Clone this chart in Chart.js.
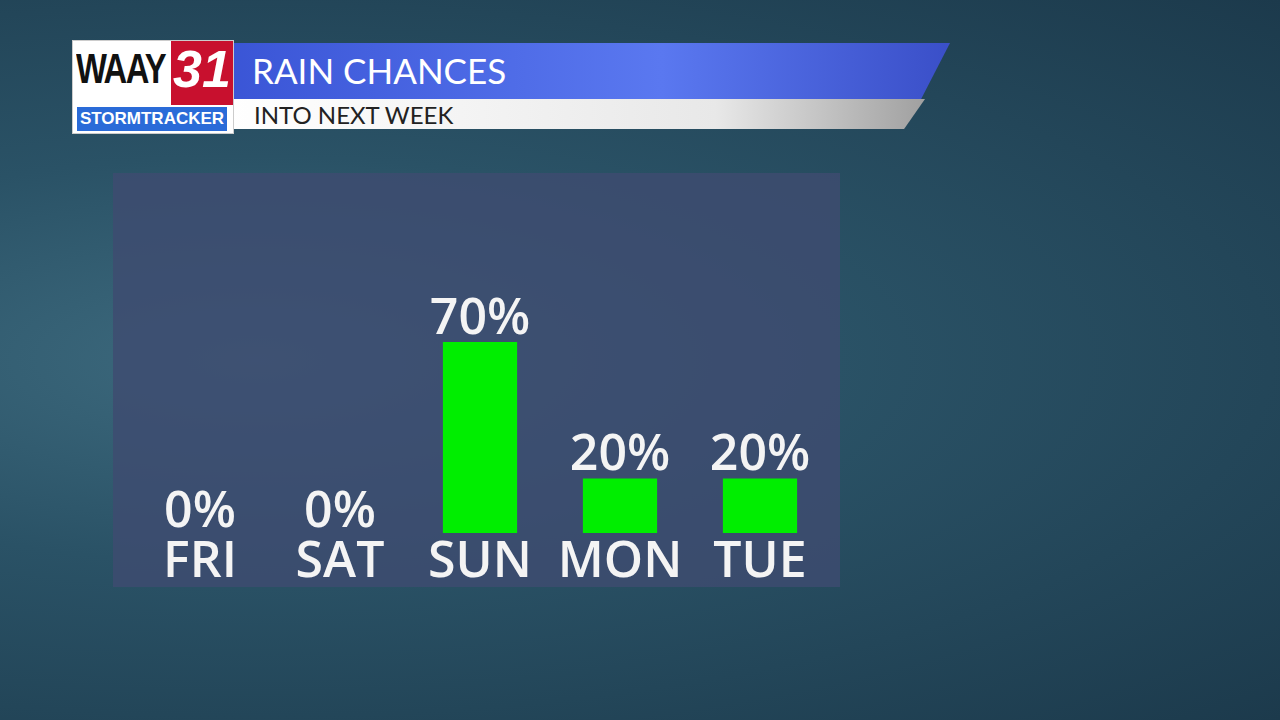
<!DOCTYPE html>
<html><head><meta charset="utf-8">
<script src="https://cdn.jsdelivr.net/npm/chart.js@4"></script>
<style>
html,body{margin:0;width:1280px;height:720px;overflow:hidden;font-family:"Open Sans",Lato,sans-serif}
#bg{position:absolute;inset:0;background:radial-gradient(ellipse at 20% 50%,#3d6a7e 0%,#2a5266 40%,#1c3a4c 100%)}
#panel{position:absolute;left:113px;top:173px;width:727px;height:414px;background:rgba(62,76,112,0.82)}
#banner{position:absolute;left:228px;top:43px;width:722px;height:56px;background:linear-gradient(90deg,#3a55d6,#5a78f0 60%,#3a4fc8);clip-path:polygon(0 0,100% 0,96% 100%,0 100%)}
#banner span{position:absolute;left:24px;top:6px;color:#fff;font-size:35px;font-family:Lato,sans-serif}
#sub{position:absolute;left:228px;top:99px;width:697px;height:30px;background:linear-gradient(90deg,#ffffff,#e8e8e8 70%,#a0a0a0);clip-path:polygon(0 0,100% 0,97% 100%,0 100%)}
#sub span{position:absolute;left:26px;top:1px;color:#222;font-size:24px;font-family:Lato,sans-serif}
#logo{position:absolute;left:72px;top:40px;width:160px;height:92px;background:#fff;border:1px solid #ccc;overflow:hidden}
#logo .w{position:absolute;left:3px;top:4px;font:bold 42px "Liberation Sans",sans-serif;color:#111;letter-spacing:-2px;transform:scaleX(0.78);transform-origin:0 0}
#logo .n{position:absolute;left:98px;top:-2px;width:62px;height:66px;background:#c8102e;color:#fff;font:bold italic 52px "Liberation Sans",sans-serif;text-align:center}
#logo .s{position:absolute;left:4px;top:66px;width:150px;height:24px;background:#2a6bd8;color:#fff;font:bold 17px "Liberation Sans",sans-serif;text-align:center;line-height:24px}
canvas{position:absolute;left:0;top:0}
</style></head><body>
<div id="bg"></div><div id="panel"></div>
<div id="banner"><span>RAIN CHANCES</span></div>
<div id="sub"><span>INTO NEXT WEEK</span></div>
<div id="logo"><div class="w">WAAY</div><div class="n">31</div><div class="s">STORMTRACKER</div></div>
<canvas id="c" width="1280" height="720"></canvas>
<script>
const days=["FRI","SAT","SUN","MON","TUE"];
const chances=[0,0,70,20,20];
const labelPlugin={id:'lbl',afterDatasetsDraw(ch){
 const c=ch.ctx,x=ch.scales.x,m=ch.getDatasetMeta(0);
 c.save();c.fillStyle='#f4f4f4';c.textAlign='center';
 c.font='600 50px "Open Sans",Lato,sans-serif';
 days.forEach((d,i)=>{
  const px=x.getPixelForValue(i);
  c.textBaseline='alphabetic';c.fillText(d,px,577);
  const top=chances[i]>0?m.data[i].y-8:527;
  c.fillText(chances[i]+'%',px,top);
 });c.restore();}};
new Chart(document.getElementById('c'),{type:'bar',
 data:{labels:days,datasets:[{data:chances,backgroundColor:'#00ee00',barPercentage:0.53,categoryPercentage:1}]},
 options:{responsive:false,animation:false,
  layout:{padding:{left:130,right:450,top:260,bottom:187}},
  plugins:{legend:{display:false},tooltip:{enabled:false}},
  scales:{x:{display:false},y:{display:false,min:0,max:100}}},
 plugins:[labelPlugin]});
</script></body></html>
